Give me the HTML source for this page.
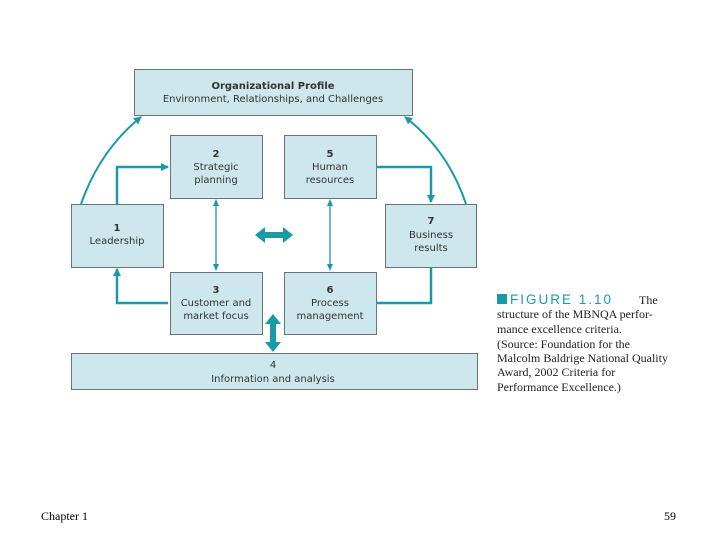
<!DOCTYPE html>
<html><head><style>
html,body{margin:0;padding:0;background:#fff;}
svg{display:block;}
</style></head><body>
<svg width="720" height="540" viewBox="0 0 720 540" xmlns="http://www.w3.org/2000/svg">
<defs>
<marker id="ah" markerWidth="8" markerHeight="8" refX="7" refY="4" orient="auto" markerUnits="userSpaceOnUse"><path d="M0,0 L8,4 L0,8 z" fill="#1a9aa8"/></marker>
</defs>
<g fill="#cde7ed" stroke="#6a7478" stroke-width="1">
<rect x="134.5" y="69.5" width="278" height="46"/>
<rect x="170.5" y="135.5" width="92" height="63"/>
<rect x="284.5" y="135.5" width="92" height="63"/>
<rect x="71.5" y="204.5" width="92" height="63"/>
<rect x="385.5" y="204.5" width="91" height="63"/>
<rect x="170.5" y="272.5" width="92" height="62"/>
<rect x="284.5" y="272.5" width="92" height="62"/>
<rect x="71.5" y="353.5" width="406" height="36"/>
</g>
<g fill="none" stroke="#1a9aa8" stroke-width="2.5">
<path d="M117,204 V167 H168" marker-end="url(#ah)"/>
<path d="M168,303 H117 V269" marker-end="url(#ah)"/>
<path d="M376,167 H431 V202" marker-end="url(#ah)"/>
<path d="M376,303 H431 V267"/>
<path d="M81,204 Q100,150 141,117" stroke-width="2" marker-end="url(#ah)"/>
<path d="M466,204 Q448,150 405,117" stroke-width="2" marker-end="url(#ah)"/>
</g>
<g fill="none" stroke="#1a9aa8" stroke-width="1.3">
<path d="M216,205 V266"/><path d="M330,205 V266"/>
</g>
<g fill="#1a9aa8">
<path d="M216,199 l-3,7 h6 z"/><path d="M216,271 l-3,-7 h6 z"/>
<path d="M330,199 l-3,7 h6 z"/><path d="M330,271 l-3,-7 h6 z"/>
<path d="M255,235 l10,-8 v5 h18 v-5 l10,8 l-10,8 v-5 h-18 v5 z"/>
<path d="M273,314 l8,10 h-5 v18 h5 l-8,10 l-8,-10 h5 v-18 h-5 l8,-10 z"/>
<rect x="497" y="294" width="10" height="10"/>
</g>
<g font-family="'DejaVu Sans','Liberation Sans',sans-serif" font-size="10" fill="#333" text-anchor="middle">
<text x="273" y="89" font-weight="bold">Organizational Profile</text>
<text x="273" y="102">Environment, Relationships, and Challenges</text>
<text x="216" y="157" font-weight="bold">2</text><text x="216" y="170">Strategic</text><text x="216" y="183">planning</text>
<text x="330" y="157" font-weight="bold">5</text><text x="330" y="170">Human</text><text x="330" y="183">resources</text>
<text x="117" y="231" font-weight="bold">1</text><text x="117" y="244">Leadership</text>
<text x="431" y="224" font-weight="bold">7</text><text x="431" y="238">Business</text><text x="431" y="251">results</text>
<text x="216" y="293" font-weight="bold">3</text><text x="216" y="306">Customer and</text><text x="216" y="319">market focus</text>
<text x="330" y="293" font-weight="bold">6</text><text x="330" y="306">Process</text><text x="330" y="319">management</text>
<text x="273" y="368">4</text><text x="273" y="382">Information and analysis</text>
</g>
<g font-family="'Liberation Serif',serif" font-size="12" fill="#222">
<text x="510" y="304" font-family="'Liberation Sans',sans-serif" font-size="13.5" fill="#1a9aa8" letter-spacing="2">FIGURE 1.10</text>
<text x="639" y="304">The</text>
<text x="497" y="318">structure of the MBNQA perfor-</text>
<text x="497" y="333">mance excellence criteria.</text>
<text x="497" y="348">(Source: Foundation for the</text>
<text x="497" y="362">Malcolm Baldrige National Quality</text>
<text x="497" y="376">Award, 2002 Criteria for</text>
<text x="497" y="391">Performance Excellence.)</text>
</g>
<g font-family="'Liberation Serif',serif" font-size="12" fill="#000">
<text x="41" y="520">Chapter 1</text>
<text x="664" y="520">59</text>
</g>
</svg>
</body></html>
